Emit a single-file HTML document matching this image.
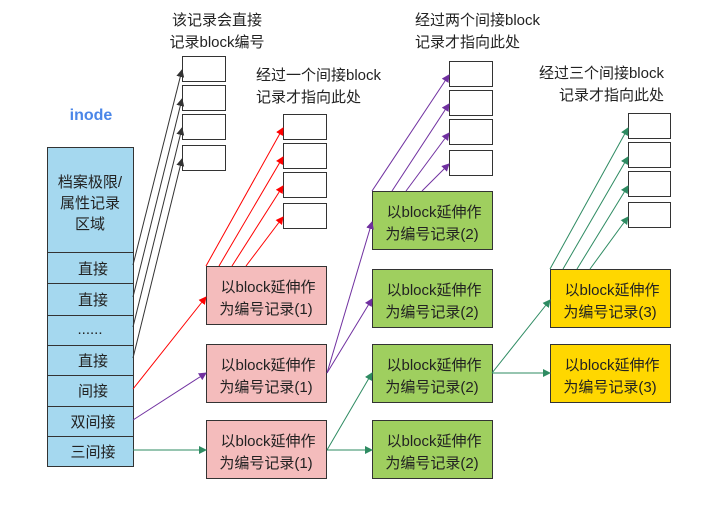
<!DOCTYPE html>
<html><head><meta charset="utf-8"><style>
body{margin:0;background:#fff}
svg{display:block}
text{font-family:"Liberation Sans","Noto Sans CJK SC",sans-serif;font-size:15px;fill:#222}
</style></head><body>
<svg width="722" height="505" viewBox="0 0 722 505" xmlns="http://www.w3.org/2000/svg">
<defs>
<marker id="ak" markerWidth="8" markerHeight="8" refX="7" refY="4" orient="auto" markerUnits="userSpaceOnUse"><path d="M0,0 L8,4 L0,8 z" fill="#333"/></marker>
<marker id="ar" markerWidth="8" markerHeight="8" refX="7" refY="4" orient="auto" markerUnits="userSpaceOnUse"><path d="M0,0 L8,4 L0,8 z" fill="#f00"/></marker>
<marker id="ap" markerWidth="8" markerHeight="8" refX="7" refY="4" orient="auto" markerUnits="userSpaceOnUse"><path d="M0,0 L8,4 L0,8 z" fill="#7030a0"/></marker>
<marker id="ag" markerWidth="8" markerHeight="8" refX="7" refY="4" orient="auto" markerUnits="userSpaceOnUse"><path d="M0,0 L8,4 L0,8 z" fill="#2e8b62"/></marker>
</defs>
<!-- labels -->
<text x="217" y="25" text-anchor="middle">该记录会直接</text>
<text x="217" y="47" text-anchor="middle">记录block编号</text>
<text x="256" y="80">经过一个间接block</text>
<text x="256" y="102">记录才指向此处</text>
<text x="415" y="25">经过两个间接block</text>
<text x="415" y="47">记录才指向此处</text>
<text x="664" y="78" text-anchor="end">经过三个间接block</text>
<text x="664" y="100" text-anchor="end">记录才指向此处</text>
<text x="91" y="120" text-anchor="middle" style="fill:#4a86e8;font-weight:bold;font-size:16px">inode</text>
<!-- inode column -->
<g fill="#a5d8ef" stroke="#333" stroke-width="1">
<rect x="47.5" y="147.5" width="86" height="105"/>
<rect x="47.5" y="252.5" width="86" height="31"/>
<rect x="47.5" y="283.5" width="86" height="32"/>
<rect x="47.5" y="315.5" width="86" height="30"/>
<rect x="47.5" y="345.5" width="86" height="30"/>
<rect x="47.5" y="375.5" width="86" height="31"/>
<rect x="47.5" y="406.5" width="86" height="30"/>
<rect x="47.5" y="436.5" width="86" height="30"/>
</g>
<g text-anchor="middle">
<text x="90" y="187">档案极限/</text>
<text x="90" y="208">属性记录</text>
<text x="90" y="229">区域</text>
<text x="93" y="274">直接</text>
<text x="93" y="305">直接</text>
<text x="90" y="334">......</text>
<text x="93" y="366">直接</text>
<text x="93" y="396">间接</text>
<text x="93" y="427">双间接</text>
<text x="93" y="457">三间接</text>
</g>
<!-- small boxes -->
<g fill="#fff" stroke="#333" stroke-width="1">
<rect x="182.5" y="56.5" width="43" height="25"/><rect x="182.5" y="85.5" width="43" height="25"/><rect x="182.5" y="114.5" width="43" height="25"/><rect x="182.5" y="145.5" width="43" height="25"/>
<rect x="283.5" y="114.5" width="43" height="25"/><rect x="283.5" y="143.5" width="43" height="25"/><rect x="283.5" y="172.5" width="43" height="25"/><rect x="283.5" y="203.5" width="43" height="25"/>
<rect x="449.5" y="61.5" width="43" height="25"/><rect x="449.5" y="90.5" width="43" height="25"/><rect x="449.5" y="119.5" width="43" height="25"/><rect x="449.5" y="150.5" width="43" height="25"/>
<rect x="628.5" y="113.5" width="42" height="25"/><rect x="628.5" y="142.5" width="42" height="25"/><rect x="628.5" y="171.5" width="42" height="25"/><rect x="628.5" y="202.5" width="42" height="25"/>
</g>
<!-- block boxes -->
<g stroke="#333" stroke-width="1">
<rect x="206.5" y="266.5" width="120" height="58" fill="#f4bcbc"/>
<rect x="206.5" y="344.5" width="120" height="58" fill="#f4bcbc"/>
<rect x="206.5" y="420.5" width="120" height="58" fill="#f4bcbc"/>
<rect x="372.5" y="191.5" width="120" height="58" fill="#9fcf5f"/>
<rect x="372.5" y="269.5" width="120" height="58" fill="#9fcf5f"/>
<rect x="372.5" y="344.5" width="120" height="58" fill="#9fcf5f"/>
<rect x="372.5" y="420.5" width="120" height="58" fill="#9fcf5f"/>
<rect x="550.5" y="269.5" width="120" height="58" fill="#ffd700"/>
<rect x="550.5" y="344.5" width="120" height="58" fill="#ffd700"/>
</g>
<g text-anchor="middle">
<text x="268" y="292">以block延伸作</text><text x="266" y="314">为编号记录(1)</text>
<text x="268" y="370">以block延伸作</text><text x="266" y="392">为编号记录(1)</text>
<text x="268" y="446">以block延伸作</text><text x="266" y="468">为编号记录(1)</text>
<text x="434" y="217">以block延伸作</text><text x="432" y="239">为编号记录(2)</text>
<text x="434" y="295">以block延伸作</text><text x="432" y="317">为编号记录(2)</text>
<text x="434" y="370">以block延伸作</text><text x="432" y="392">为编号记录(2)</text>
<text x="434" y="446">以block延伸作</text><text x="432" y="468">为编号记录(2)</text>
<text x="612" y="295">以block延伸作</text><text x="610" y="317">为编号记录(3)</text>
<text x="612" y="370">以block延伸作</text><text x="610" y="392">为编号记录(3)</text>
</g>
<!-- arrows -->
<g stroke="#333" stroke-width="1" fill="none" marker-end="url(#ak)">
<line x1="133" y1="265" x2="182" y2="70"/>
<line x1="133" y1="297" x2="182" y2="99"/>
<line x1="133" y1="327" x2="182" y2="128"/>
<line x1="133" y1="358" x2="182" y2="159"/>
</g>
<g stroke="#f00" stroke-width="1" fill="none" marker-end="url(#ar)">
<line x1="133" y1="389" x2="206" y2="297"/>
<line x1="206" y1="266" x2="283" y2="128"/>
<line x1="219" y1="266" x2="283" y2="157"/>
<line x1="232" y1="266" x2="283" y2="186"/>
<line x1="246" y1="266" x2="283" y2="217"/>
</g>
<g stroke="#7030a0" stroke-width="1" fill="none" marker-end="url(#ap)">
<line x1="133" y1="420" x2="206" y2="373"/>
<line x1="327" y1="373" x2="372" y2="222"/>
<line x1="327" y1="373" x2="372" y2="299"/>
<line x1="372" y1="191" x2="449" y2="75"/>
<line x1="392" y1="191" x2="449" y2="104"/>
<line x1="406" y1="191" x2="449" y2="133"/>
<line x1="422" y1="191" x2="449" y2="164"/>
</g>
<g stroke="#2e8b62" stroke-width="1" fill="none" marker-end="url(#ag)">
<line x1="133" y1="450" x2="206" y2="450"/>
<line x1="327" y1="450" x2="372" y2="373"/>
<line x1="327" y1="450" x2="372" y2="450"/>
<line x1="492" y1="373" x2="550" y2="300"/>
<line x1="492" y1="373" x2="550" y2="373"/>
<line x1="550" y1="269" x2="628" y2="128"/>
<line x1="563" y1="269" x2="628" y2="157"/>
<line x1="577" y1="269" x2="628" y2="186"/>
<line x1="590" y1="269" x2="628" y2="217"/>
</g>
</svg>
</body></html>
